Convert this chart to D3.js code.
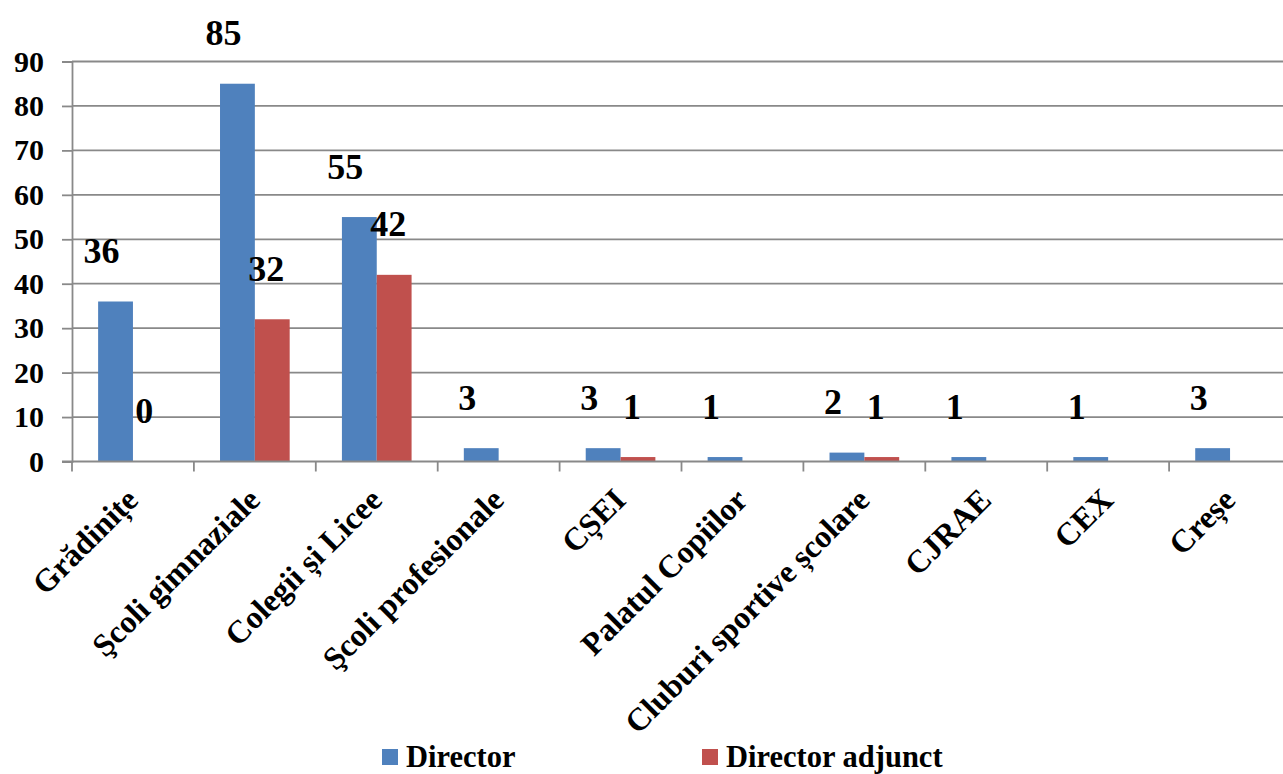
<!DOCTYPE html>
<html>
<head>
<meta charset="utf-8">
<script src="https://cdn.jsdelivr.net/npm/d3@7"></script>
<style>
  html, body { margin: 0; padding: 0; background: #ffffff; }
  svg { display: block; }
</style>
</head>
<body>
<svg id="chart" width="1283" height="774"></svg>
<script>
const categories = ["Grădinițe", "Şcoli gimnaziale", "Colegii și Licee", "Şcoli profesionale", "CȘEI", "Palatul Copiilor", "Cluburi sportive școlare", "CJRAE", "CEX", "Creșe"];
const seriesNames = ["Director", "Director adjunct"];
const director = [36, 85, 55, 3, 3, 1, 2, 1, 1, 3];
const directorAdjunct = [0, 32, 42, null, 1, null, 1, null, null, null];
const yTicks = [0, 10, 20, 30, 40, 50, 60, 70, 80, 90];
const colors = ["#4F81BD", "#C0504D"];

(function () {
const FONT = "Liberation Serif";
const svg = d3.select("#chart");
const W = 1283;
const plotLeft = 72, plotTop = 61.5, plotBottom = 461.5;
const step = 121.9;

const x0 = d3.scaleBand().domain(categories).range([plotLeft, plotLeft + step * categories.length]).padding(0);
const x1 = d3.scaleBand().domain(seriesNames).range([0, x0.bandwidth()]).paddingInner(0).paddingOuter(0.75);
const y = d3.scaleLinear().domain([0, 90]).range([plotBottom, plotTop]);

const gridColor = "#898989";

// gridlines
svg.append("g").selectAll("line").data(yTicks.filter(d => d > 0)).join("line")
  .attr("x1", plotLeft).attr("x2", W)
  .attr("y1", d => y(d)).attr("y2", d => y(d))
  .attr("stroke", gridColor).attr("stroke-width", 1.8);

// y axis
const yAxis = d3.axisLeft(y).tickValues(yTicks).tickSize(10).tickPadding(18);
const gy = svg.append("g").attr("transform", `translate(${plotLeft},0)`).call(yAxis)
  .attr("font-family", FONT).attr("font-weight", "bold").attr("font-size", 30);
gy.select(".domain").attr("stroke", gridColor).attr("stroke-width", 1.8);
gy.selectAll(".tick line").attr("stroke", gridColor).attr("stroke-width", 1.8);
gy.selectAll(".tick text").attr("font-family", FONT).attr("font-weight", "bold")
  .attr("font-size", 30).attr("fill", "#000");

// bars
const seriesData = [director, directorAdjunct];
seriesNames.forEach((s, si) => {
  svg.append("g").selectAll("rect")
    .data(categories.map((c, i) => ({ c, v: seriesData[si][i] })).filter(d => d.v != null && d.v > 0))
    .join("rect")
    .attr("x", d => x0(d.c) + x1(s))
    .attr("width", x1.bandwidth())
    .attr("y", d => y(d.v))
    .attr("height", d => y(0) - y(d.v))
    .attr("fill", colors[si]);
});

// x axis line and ticks
svg.append("line").attr("x1", plotLeft - 10).attr("x2", W).attr("y1", y(0)).attr("y2", y(0))
  .attr("stroke", gridColor).attr("stroke-width", 1.8);
svg.append("g").selectAll("line").data(categories).join("line")
  .attr("x1", d => x0(d)).attr("x2", d => x0(d))
  .attr("y1", y(0)).attr("y2", y(0) + 10)
  .attr("stroke", gridColor).attr("stroke-width", 1.8);

// category labels
svg.append("g").selectAll("text").data(categories).join("text")
  .attr("transform", d => `translate(${x0(d) + x0.bandwidth() / 2 - 1},${494}) rotate(-45)`)
  .attr("text-anchor", "end").attr("dy", "0.35em")
  .attr("font-family", FONT).attr("font-weight", "bold")
  .attr("font-size", 32).attr("fill", "#000")
  .text(d => d);

// data labels
const labelShift = [-14, -6];
seriesNames.forEach((s, si) => {
  svg.append("g").selectAll("text")
    .data(categories.map((c, i) => ({ c, v: seriesData[si][i] })).filter(d => d.v != null))
    .join("text")
    .attr("x", d => x0(d.c) + x1(s) + x1.bandwidth() / 2 + labelShift[si])
    .attr("y", d => y(d.v) - 51)
    .attr("dy", "0.35em")
    .attr("text-anchor", "middle")
    .attr("font-family", FONT).attr("font-weight", "bold")
    .attr("font-size", 36).attr("fill", "#000")
    .text(d => d.v);
});

// legend
const legendPos = [382, 702];
seriesNames.forEach((s, si) => {
  const g = svg.append("g").attr("transform", `translate(${legendPos[si]},0)`);
  g.append("rect").attr("x", 0).attr("y", 749).attr("width", 16).attr("height", 16).attr("fill", colors[si]);
  g.append("text").attr("x", 24).attr("y", 767)
    .attr("font-family", FONT).attr("font-weight", "bold")
    .attr("font-size", 30.5).attr("fill", "#000").text(s);
});
})();
</script>
</body>
</html>
